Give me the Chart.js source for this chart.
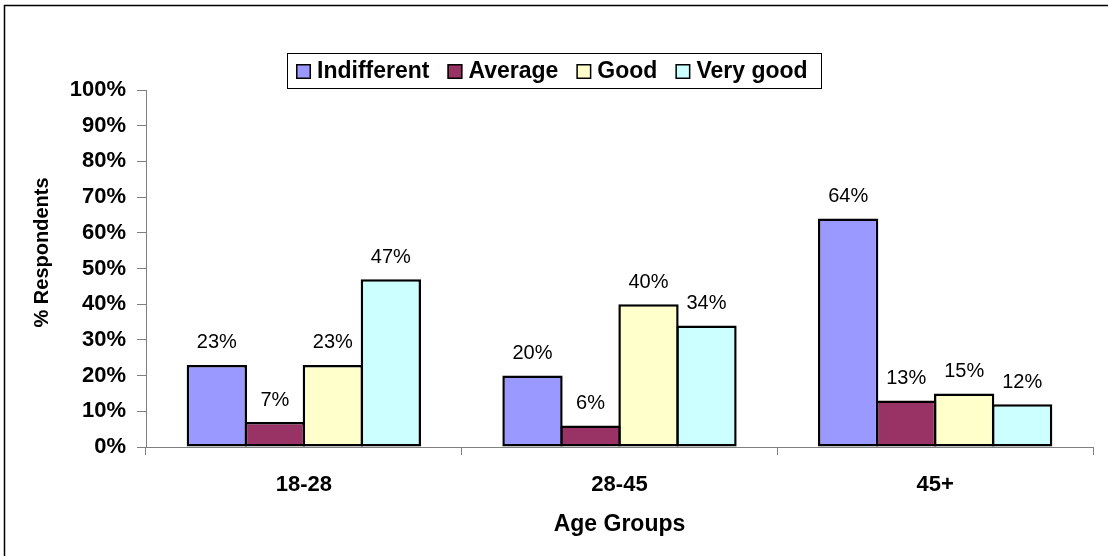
<!DOCTYPE html>
<html>
<head>
<meta charset="utf-8">
<title>% Respondents by Age Group</title>
<script src="https://cdn.jsdelivr.net/npm/chart.js@4.4.1/dist/chart.umd.min.js"></script>
<style>
  html, body { margin: 0; padding: 0; background: #ffffff; }
  canvas { display: block; }
</style>
</head>
<body>
<canvas id="chart" width="1108" height="556"></canvas>
<script>
// Categories and series values (percent of respondents)
const ageGroups = ['18-28', '28-45', '45+'];
const seriesNames = ['Indifferent', 'Average', 'Good', 'Very good'];
const indifferent = [23, 20, 64];
const average = [7, 6, 13];
const good = [23, 40, 15];
const veryGood = [47, 34, 12];
const yTickValues = [0, 10, 20, 30, 40, 50, 60, 70, 80, 90, 100];
const yAxisTitle = '% Respondents';
const xAxisTitle = 'Age Groups';

const seriesColors = ['#9999FF', '#993366', '#FFFFCC', '#CCFFFF'];
const FONT = '"Liberation Sans", Arial, Helvetica, sans-serif';
const AXIS_GREY = '#808080';

const seriesValues = [indifferent, average, good, veryGood];

// Outer frame of the chart object (top and left edges)
const framePlugin = {
  id: 'frame',
  beforeDraw(chart) {
    const ctx = chart.ctx;
    ctx.save();
    ctx.fillStyle = '#ffffff';
    ctx.fillRect(0, 0, chart.width, chart.height);
    ctx.strokeStyle = '#000000';
    ctx.lineWidth = 1.5;
    ctx.beginPath();
    ctx.moveTo(4.5, chart.height);
    ctx.lineTo(4.5, 5.5);
    ctx.lineTo(chart.width, 5.5);
    ctx.stroke();
    ctx.restore();
  }
};

// Rotated value-axis title, set a little above the plot centre
const yTitlePlugin = {
  id: 'yTitle',
  afterDraw(chart) {
    const ctx = chart.ctx;
    const area = chart.chartArea;
    ctx.save();
    ctx.translate(42, (area.top + area.bottom) / 2 - 16);
    ctx.rotate(-Math.PI / 2);
    ctx.font = 'bold 20px ' + FONT;
    ctx.fillStyle = '#000000';
    ctx.textAlign = 'center';
    ctx.textBaseline = 'middle';
    ctx.fillText(yAxisTitle, 0, 0);
    ctx.restore();
  }
};

// Value labels above each bar
const valueLabelPlugin = {
  id: 'valueLabels',
  afterDatasetsDraw(chart) {
    const ctx = chart.ctx;
    ctx.save();
    ctx.font = '20px ' + FONT;
    ctx.fillStyle = '#000000';
    ctx.textAlign = 'center';
    ctx.textBaseline = 'middle';
    chart.data.datasets.forEach((ds, i) => {
      chart.getDatasetMeta(i).data.forEach((bar, j) => {
        ctx.fillText(ds.data[j] + '%', bar.x, bar.y - 22);
      });
    });
    ctx.restore();
  }
};

// Boxed legend centred above the plot area
const boxedLegendPlugin = {
  id: 'boxedLegend',
  afterDraw(chart) {
    const ctx = chart.ctx;
    ctx.save();
    ctx.font = 'bold 23px ' + FONT;
    const items = chart.data.datasets.map(ds => ({
      label: ds.label,
      color: ds.backgroundColor,
      w: ctx.measureText(ds.label).width
    }));
    const sq = 15, gapText = 6, gapItem = 18, padL = 9, padR = 13;
    const total = padL + padR + gapItem * (items.length - 1) +
      items.reduce((s, it) => s + sq + gapText + it.w, 0);
    const left = Math.round(chart.width / 2 - total / 2);
    const top = 53, h = 35;
    ctx.fillStyle = '#ffffff';
    ctx.fillRect(left, top, total, h);
    ctx.strokeStyle = '#000000';
    ctx.lineWidth = 1;
    ctx.strokeRect(left + 0.5, top + 0.5, Math.round(total), h);
    const cy = top + h / 2 + 0.5;
    let x = left + padL;
    ctx.textAlign = 'left';
    ctx.textBaseline = 'middle';
    items.forEach(it => {
      ctx.fillStyle = it.color;
      ctx.fillRect(x, Math.round(cy - sq / 2), sq, sq);
      ctx.lineWidth = 1.5;
      ctx.strokeStyle = '#000000';
      ctx.strokeRect(x + 0.75, Math.round(cy - sq / 2) + 0.75, sq - 1.5, sq - 1.5);
      ctx.fillStyle = '#000000';
      ctx.fillText(it.label, x + sq + gapText, cy + 1);
      x += sq + gapText + it.w + gapItem;
    });
    ctx.restore();
  }
};

const datasets = seriesNames.map((name, i) => ({
  label: name,
  data: seriesValues[i],
  backgroundColor: seriesColors[i],
  borderColor: '#000000',
  borderWidth: 2.5,
  borderSkipped: false,
  categoryPercentage: 0.735,
  barPercentage: 1.04
}));

new Chart(document.getElementById('chart'), {
  type: 'bar',
  data: { labels: ageGroups, datasets },
  options: {
    responsive: false,
    animation: false,
    devicePixelRatio: 1,
    layout: { padding: { top: 90, right: 15, bottom: 0, left: 0 } },
    plugins: {
      legend: { display: false },
      tooltip: { enabled: false }
    },
    scales: {
      x: {
        afterFit(scale) { scale.height = 109; },
        grid: {
          offset: true,
          drawOnChartArea: false,
          drawTicks: true,
          tickLength: 8,
          color: AXIS_GREY,
          lineWidth: 1
        },
        border: { display: true, color: AXIS_GREY, width: 1 },
        ticks: {
          color: '#000000',
          padding: 17,
          font: { family: FONT, size: 22, weight: 'bold' },
          maxRotation: 0
        },
        title: {
          display: true,
          text: xAxisTitle,
          color: '#000000',
          font: { family: FONT, size: 23, weight: 'bold' },
          padding: { top: 0, bottom: 18 }
        }
      },
      y: {
        min: 0,
        max: 100,
        afterFit(scale) { scale.width = 146; },
        afterBuildTicks(scale) {
          scale.ticks = yTickValues.map(v => ({ value: v }));
        },
        grid: {
          drawOnChartArea: false,
          drawTicks: true,
          tickLength: 9,
          color: AXIS_GREY,
          lineWidth: 1
        },
        border: { display: true, color: AXIS_GREY, width: 1 },
        ticks: {
          color: '#000000',
          padding: 11,
          font: { family: FONT, size: 22, weight: 'bold' },
          callback: v => v + '%'
        },
        title: { display: false }
      }
    }
  },
  plugins: [framePlugin, valueLabelPlugin, boxedLegendPlugin, yTitlePlugin]
});
</script>
</body>
</html>
